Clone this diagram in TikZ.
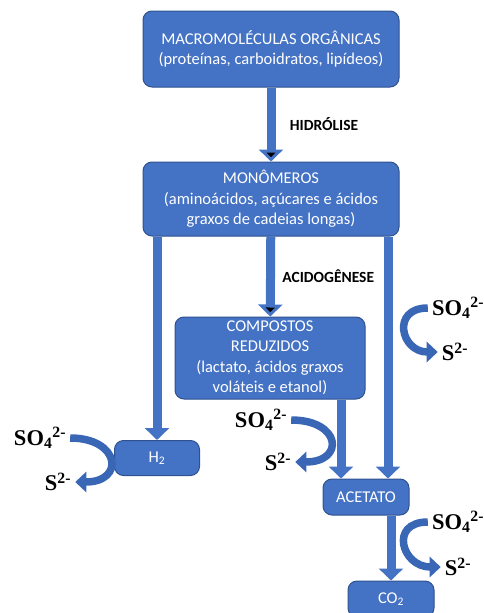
\documentclass[tikz,border=0pt]{standalone}
\usepackage{fontspec}
\setmainfont{Carlito}
\newfontfamily\ionfont{Liberation Serif}
\usetikzlibrary{arrows.meta,calc}
\definecolor{boxblue}{HTML}{4472C4}
\definecolor{boxedge}{HTML}{2F528F}
\definecolor{curveblue}{HTML}{3A66B6}

\begin{document}
\begin{tikzpicture}[x=1pt,y=-1pt,
  box/.style={draw=boxedge,line width=1pt,fill=boxblue,rounded corners=9pt,text=white,align=center,inner sep=0pt,font=\fontsize{16.5}{20.5}\selectfont},
  flow/.style={draw=boxblue,line width=9pt,-{Triangle[width=24pt,length=12pt]}},
  sulf/.style={draw=curveblue,line width=7.5pt,-{Triangle[width=20pt,length=11pt]}},
  lbl/.style={font=\fontsize{15.5}{18}\selectfont\bfseries},
  ion/.style={inner ysep=0pt,inner xsep=4pt,font=\ionfont\bfseries\fontsize{22.5}{26}\selectfont}]
  \useasboundingbox (0,0) rectangle (483,613);

  \node[box,minimum width=256pt,minimum height=76pt] (macro) at (271,49)  {MACROMOLÉCULAS ORGÂNICAS\\(proteínas, carboidratos, lipídeos)};
  \node[box,minimum width=256pt,minimum height=74pt] (mono)  at (271,199) {MONÔMEROS\\(aminoácidos, açúcares e ácidos\\graxos de cadeias longas)};
  \node[box,minimum width=190pt,minimum height=82pt] (comp)  at (270,358) {COMPOSTOS\\REDUZIDOS\\(lactato, ácidos graxos\\voláteis e etanol)};
  \node[box,minimum width=85pt,minimum height=35pt]  (h2)    at (157,458) {H\textsubscript{2}};
  \node[box,minimum width=86pt,minimum height=36pt]  (acet)  at (366,497) {ACETATO};
  \node[box,minimum width=86pt,minimum height=36pt]  (co2)   at (391,599) {CO\textsubscript{2}};

  \node[ion] (so4a) at (40,438)  {SO\textsubscript{4}\textsuperscript{2-}};
  \node[ion] (s2a)  at (58,482)  {S\textsuperscript{2-}};
  \node[ion] (so4b) at (261,420) {SO\textsubscript{4}\textsuperscript{2-}};
  \node[ion] (s2b)  at (278,462) {S\textsuperscript{2-}};
  \node[ion] (so4c) at (458,308) {SO\textsubscript{4}\textsuperscript{2-}};
  \node[ion] (s2c)  at (455,352) {S\textsuperscript{2-}};
  \node[ion] (so4d) at (458,522) {SO\textsubscript{4}\textsuperscript{2-}};
  \node[ion] (s2d)  at (458,567) {S\textsuperscript{2-}};

  \path[flow] (macro) edge node [lbl,right=11pt] {HIDRÓLISE}   (mono)
              (mono)  edge node [lbl,right=4pt]  {ACIDOGÊNESE} (comp);
  \draw[flow] (mono.south -| h2.north) -- (h2.north);
  \draw[flow] ([xshift=22pt]acet.north |- mono.south) -- ([xshift=22pt]acet.north);
  \draw[flow] ([xshift=-25pt]acet.north |- comp.south) -- ([xshift=-25pt]acet.north);
  \draw[flow] (co2.north |- acet.south) -- (co2.north);

  \draw[sulf] (so4a.east) .. controls +(50,0) and +(50,0) .. (s2a.east);
  \draw[sulf] (so4b.east) .. controls +(50,0) and +(50,0) .. (s2b.east);
  \draw[sulf] (so4c.west) .. controls +(-37,0) and +(-37,0) .. (s2c.west);
  \draw[sulf] (so4d.west) .. controls +(-39,0) and +(-39,0) .. (s2d.west);
\end{tikzpicture}
\end{document}
